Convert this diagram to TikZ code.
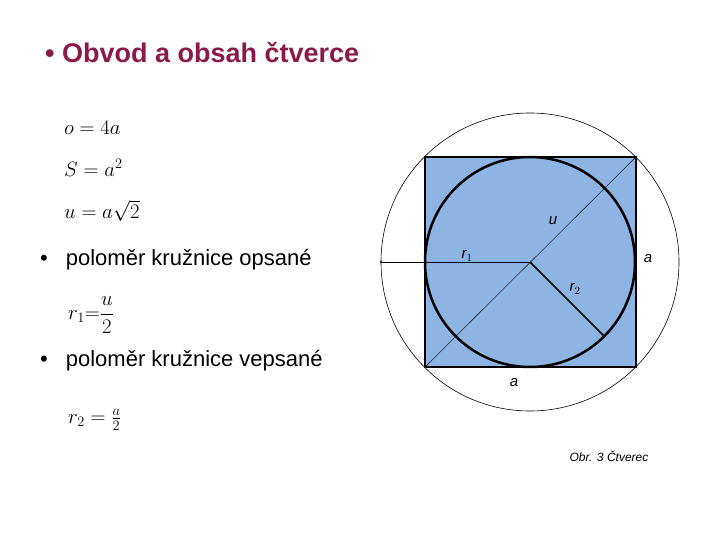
\documentclass[tikz,border=0pt]{standalone}
\usepackage{fontspec}
\setsansfont{Liberation Sans}
\definecolor{titlec}{HTML}{8B1A4A}
\definecolor{sq}{HTML}{8EB4E3}
\begin{document}
\begin{tikzpicture}[x=1pt,y=-1pt,
  lbl/.style={font=\sffamily\itshape\fontsize{15}{18}\selectfont,inner sep=0pt},
  txt/.style={anchor=west,font=\sffamily\fontsize{22}{27}\selectfont,inner sep=0pt},
  frm/.style={anchor=west,font=\fontsize{22}{27}\selectfont,inner sep=0pt}]
\useasboundingbox (0,0) rectangle (720,540);
\node[anchor=west,inner sep=0pt,text=titlec,font=\sffamily\bfseries\fontsize{27}{32}\selectfont] (title) at (45,53) {• Obvod a obsah čtverce};
\node[frm] (f1) at (64,128) {$o=4a$};
\node[frm] (f2) at (64,168) {$S=a^2$};
\node[frm] (f3) at (64,211) {$u=a\sqrt{2}$};
\node[txt] (b1) at (40,260) {•\hspace{18pt}poloměr kružnice opsané};
\node[frm] (f4) at (68,315) {$r_1{=}\displaystyle\frac{u}{2}$};
\node[txt] (b2) at (40,361) {•\hspace{18pt}poloměr kružnice vepsané};
\node[frm] (f5) at (68,420) {$r_2=\frac{a}{2}$};
\coordinate (c) at (530,262);
\draw[line width=0.6pt] (c) circle (149);
\draw[fill=sq,line width=2.5pt] (425,157) rectangle (636,367);
\draw[line width=2.5pt] (c) circle (105);
\coordinate (bl) at (425,367);
\coordinate (tr) at (636,157);
\coordinate (le) at (381,262);
\coordinate (rp) at (604,336);
\draw[line width=0.4pt] (bl) -- (tr);
\draw[line width=0.6pt] (c) -- (le);
\fill (le) circle (1.2);
\draw[line width=1.5pt] (c) -- (rp);
\node[lbl] (u) at (553,221) {u};
\node[lbl] (r1) at (467,256) {r$_1$};
\node[lbl] (r2) at (575,289) {r$_2$};
\node[lbl] (a1) at (648,259) {a};
\node[lbl] (a2) at (514,383) {a};
\node[font=\sffamily\itshape\fontsize{12}{14}\selectfont,inner sep=0pt] (cap) at (609,456) {Obr. 3 Čtverec};
\end{tikzpicture}
\end{document}
